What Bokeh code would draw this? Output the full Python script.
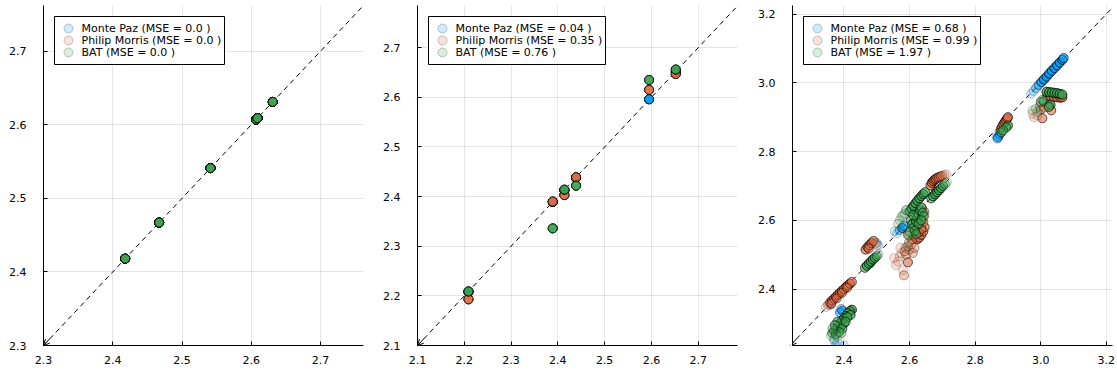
import numpy as np
from bokeh.plotting import figure
from bokeh.layouts import row
from bokeh.models import (ColumnDataSource, FixedTicker, PrintfTickFormatter,
                          Arrow, OpenHead)
from bokeh.core.properties import value
from bokeh.embed import file_html
from bokeh.resources import INLINE

# ---------------- data ----------------
series_names = ["Monte Paz", "Philip Morris", "BAT"]
series_colors = ["#009AFA", "#E36F47", "#3EA44E"]

# panel 1 (all three models agree)
p1_mse = [0.0, 0.0, 0.0]
p1_x = [2.418, 2.467, 2.541, 2.607, 2.609, 2.631]
p1_y = [2.418, 2.467, 2.541, 2.607, 2.609, 2.631]
p1_n = [12, 12, 12, 12, 12, 12]

# panel 2
p2_mse = [0.04, 0.35, 0.76]
p2_x = [2.209, 2.389, 2.414, 2.439, 2.595, 2.652]
p2_y_mp = [2.208, 2.389, 2.413, 2.438, 2.596, 2.651]
p2_y_pm = [2.193, 2.390, 2.403, 2.439, 2.615, 2.647]
p2_y_bat = [2.209, 2.336, 2.414, 2.422, 2.635, 2.656]
p2_n = [12, 12, 12, 12, 12, 12]

# panel 3 (n = number of coincident observations at each point)
p3_mse = [0.68, 0.99, 1.97]
p3_mp_x = [2.970, 2.978, 2.986, 2.994, 3.002, 3.010, 3.018, 3.026, 3.034, 3.042, 3.050, 3.058, 3.066, 3.070,
           2.870, 2.875, 2.865, 2.868,
           2.555, 2.562, 2.570, 2.578, 2.582,
           2.395, 2.388, 2.392, 2.375, 2.400, 2.370, 2.380,
           2.500, 2.505, 2.480, 2.680, 2.620, 2.360]
p3_mp_y = [2.968, 2.976, 2.985, 2.994, 3.002, 3.010, 3.018, 3.027, 3.035, 3.043, 3.051, 3.059, 3.067, 3.072,
           2.842, 2.850, 2.845, 2.838,
           2.568, 2.562, 2.572, 2.578, 2.584,
           2.337, 2.332, 2.342, 2.236, 2.236, 2.250, 2.245,
           2.535, 2.527, 2.475, 2.685, 2.630, 2.355]
p3_mp_n = [1, 1, 2, 3, 5, 6, 6, 6, 6, 6, 6, 6, 6, 4,
           4, 3, 1, 2,
           1, 1, 2, 5, 3,
           4, 3, 2, 1, 1, 1, 1,
           1, 1, 3, 3, 3, 2]

p3_pm_x = [2.345, 2.352, 2.358, 2.364, 2.370, 2.376, 2.382, 2.388, 2.394, 2.400, 2.406, 2.412, 2.418, 2.424,
           2.362, 2.378, 2.394, 2.410,
           2.466, 2.472, 2.478, 2.484, 2.490, 2.476, 2.496, 2.500,
           2.612, 2.618, 2.624, 2.630, 2.636, 2.642, 2.646, 2.620, 2.628, 2.636, 2.642, 2.615, 2.632,
           2.640, 2.645, 2.625, 2.638,
           2.553, 2.558, 2.565, 2.570, 2.575, 2.580, 2.583, 2.588, 2.590, 2.595, 2.598, 2.600, 2.605,
           2.608, 2.610, 2.615, 2.585, 2.595, 2.572,
           2.664, 2.668, 2.672, 2.676, 2.680, 2.685, 2.690, 2.695, 2.700, 2.706, 2.712,
           2.878, 2.882, 2.886, 2.890, 2.894, 2.898, 2.900,
           3.020, 3.030, 3.040, 3.050, 3.060, 3.066, 3.025, 3.032, 3.000, 3.005, 2.980, 2.990, 2.975,
           2.998, 3.010]
p3_pm_y = [2.348, 2.355, 2.361, 2.367, 2.372, 2.378, 2.384, 2.389, 2.395, 2.400, 2.406, 2.411, 2.416, 2.421,
           2.358, 2.373, 2.389, 2.404,
           2.515, 2.522, 2.528, 2.534, 2.540, 2.518, 2.533, 2.528,
           2.555, 2.548, 2.545, 2.550, 2.558, 2.568, 2.580, 2.570, 2.565, 2.575, 2.595, 2.585, 2.600,
           2.612, 2.625, 2.590, 2.635,
           2.490, 2.470, 2.480, 2.495, 2.505, 2.455, 2.440, 2.520, 2.500, 2.478, 2.535, 2.515, 2.530,
           2.545, 2.505, 2.520, 2.510, 2.560, 2.520,
           2.702, 2.709, 2.714, 2.718, 2.721, 2.724, 2.726, 2.728, 2.730, 2.732, 2.734,
           2.866, 2.872, 2.879, 2.885, 2.891, 2.896, 2.900,
           2.962, 2.960, 2.959, 2.958, 2.957, 2.958, 2.935, 2.920, 2.922, 2.897, 2.900, 2.905, 2.910,
           2.932, 2.928]
p3_pm_n = [1, 2, 4, 6, 6, 6, 6, 6, 6, 6, 6, 6, 6, 4,
           3, 3, 3, 3,
           5, 6, 6, 6, 4, 3, 1, 1,
           4, 5, 5, 5, 5, 5, 4, 4, 4, 4, 3, 3, 3,
           3, 3, 3, 2,
           1, 1, 1, 1, 1, 1, 2, 2, 2, 4, 2, 2, 2,
           2, 2, 2, 2, 2, 1,
           5, 6, 6, 6, 6, 5, 4, 3, 2, 1, 1,
           3, 5, 6, 6, 6, 6, 5,
           6, 6, 6, 6, 6, 6, 3, 4, 3, 4, 1, 1, 1,
           2, 2]

p3_bat_x = [2.424, 2.418, 2.412, 2.406, 2.400, 2.394, 2.388, 2.382, 2.376, 2.370, 2.364, 2.420, 2.410,
            2.400, 2.390, 2.380, 2.372, 2.395, 2.385, 2.375, 2.405, 2.365, 2.360, 2.370, 2.380, 2.392,
            2.464, 2.470, 2.476, 2.482, 2.488, 2.494, 2.500, 2.505,
            2.600, 2.606, 2.612, 2.618, 2.624, 2.630, 2.636, 2.642, 2.647,
            2.604, 2.608, 2.612, 2.616, 2.620, 2.624, 2.628, 2.632, 2.636, 2.640, 2.644, 2.600, 2.596,
            2.612, 2.620, 2.628, 2.636,
            2.575, 2.580, 2.585, 2.590, 2.570, 2.595, 2.565,
            2.666, 2.672, 2.678, 2.684, 2.690, 2.696, 2.702, 2.708, 2.714,
            2.900, 2.895, 2.880, 2.885,
            3.018, 3.026, 3.034, 3.042, 3.050, 3.058, 3.066, 3.000, 3.010, 3.030, 3.025, 2.975, 2.985,
            2.990, 3.005]
p3_bat_y = [2.340, 2.336, 2.330, 2.322, 2.315, 2.308, 2.300, 2.292, 2.285, 2.278, 2.272, 2.325, 2.318,
            2.300, 2.290, 2.305, 2.295, 2.285, 2.275, 2.268, 2.305, 2.285, 2.265, 2.255, 2.262, 2.272,
            2.462, 2.468, 2.474, 2.480, 2.486, 2.491, 2.496, 2.501,
            2.626, 2.634, 2.642, 2.650, 2.657, 2.664, 2.671, 2.677, 2.682,
            2.600, 2.588, 2.578, 2.570, 2.598, 2.608, 2.618, 2.628, 2.638, 2.622, 2.612, 2.566, 2.556,
            2.615, 2.560, 2.590, 2.600,
            2.610, 2.615, 2.620, 2.630, 2.600, 2.525, 2.590,
            2.664, 2.670, 2.676, 2.682, 2.688, 2.694, 2.700, 2.706, 2.711,
            2.876, 2.870, 2.856, 2.862,
            2.974, 2.973, 2.972, 2.971, 2.970, 2.968, 2.966, 2.944, 2.946, 2.936, 2.930, 2.920, 2.925,
            2.915, 2.950]
p3_bat_n = [6, 6, 6, 6, 6, 6, 6, 5, 5, 4, 3, 5, 5,
            5, 5, 4, 4, 4, 3, 3, 4, 2, 1, 1, 1, 2,
            4, 6, 6, 6, 6, 5, 3, 1,
            5, 6, 6, 6, 6, 6, 6, 6, 4,
            4, 5, 5, 5, 5, 5, 5, 5, 4, 4, 3, 3, 2,
            3, 3, 4, 4,
            1, 1, 1, 2, 1, 1, 1,
            4, 6, 6, 6, 6, 5, 4, 2, 1,
            5, 4, 4, 3,
            6, 6, 6, 6, 6, 6, 6, 3, 3, 5, 4, 1, 1,
            1, 2]

# axis settings per panel
p1_range = (2.3, 2.762, 2.3, 2.762)
p2_range = (2.1, 2.784, 2.1, 2.785)
p3_range = (2.243, 3.219, 2.236, 3.225)
p1_ticks = [2.3, 2.4, 2.5, 2.6, 2.7]
p2_ticks = [2.1, 2.2, 2.3, 2.4, 2.5, 2.6, 2.7]
p3_ticks = [2.4, 2.6, 2.8, 3.0, 3.2]

FONT = "DejaVu Sans"
FONT_PX = 11
HEIGHT = 373
BORDER_TOP = 5
BORDER_BOTTOM = 28

# legend geometry (pixels)
LEG_MARGIN = 11
LEG_PAD = 6
LEG_GW = 16
LEG_STANDOFF = 5
LEG_ROW = 12

# DejaVu Sans advance widths (em) for sizing the legend box
_ADV = {" ": .318, "(": .390, ")": .390, ".": .318, "=": .838, "M": .863, "S": .635,
        "E": .632, "P": .603, "B": .686, "A": .684, "T": .611, "o": .612, "n": .634,
        "t": .392, "e": .615, "a": .613, "z": .525, "h": .634, "i": .278, "l": .278,
        "p": .635, "r": .411, "s": .521}


def text_width(s):
    return sum(_ADV.get(c, .636) for c in s) * FONT_PX


def make_panel(width, border_left, border_right, rng, ticks, series, mses):
    x0, x1, y0, y1 = rng
    p = figure(width=width, height=HEIGHT, x_range=(x0, x1), y_range=(y0, y1),
               output_backend="svg", toolbar_location=None,
               min_border_left=border_left, min_border_right=border_right,
               min_border_top=BORDER_TOP, min_border_bottom=BORDER_BOTTOM)
    p.outline_line_color = None
    p.background_fill_color = "white"
    p.border_fill_color = "white"

    for ax in (p.xaxis[0], p.yaxis[0]):
        ax.ticker = FixedTicker(ticks=ticks)
        ax.formatter = PrintfTickFormatter(format="%.1f")
        ax.major_label_text_font = FONT
        ax.major_label_text_font_size = f"{FONT_PX}px"
        ax.major_label_text_color = "black"
        ax.axis_line_color = "black"
        ax.axis_line_width = 1
        ax.major_tick_in = 4
        ax.major_tick_out = 0
        ax.major_tick_line_color = "black"
        ax.minor_tick_line_color = None
    p.xaxis.major_label_standoff = 10
    p.yaxis.major_label_standoff = 17

    p.grid.grid_line_color = "black"
    p.grid.grid_line_alpha = 0.1
    p.grid.grid_line_width = 1
    p.xgrid.ticker = FixedTicker(ticks=ticks)
    p.ygrid.ticker = FixedTicker(ticks=ticks)

    # identity line
    lo = min(x0, y0)
    hi = max(x1, y1)
    p.line([lo, hi], [lo, hi], line_color="black", line_width=1, line_dash="5 4")
    d = (hi - lo) * 0.02
    p.add_layout(Arrow(end=OpenHead(size=6, line_width=1, line_color="black"),
                       x_start=lo + d, y_start=lo + d, x_end=lo, y_end=lo,
                       line_width=1, line_color="black"))

    # data
    for (xs, ys, ns), color in zip(series, series_colors):
        xr = np.repeat(np.asarray(xs, float), ns)
        yr = np.repeat(np.asarray(ys, float), ns)
        src = ColumnDataSource(dict(x=xr, y=yr))
        p.scatter("x", "y", source=src, size=9, marker="circle",
                  fill_color=color, fill_alpha=0.2,
                  line_color="black", line_alpha=0.2, line_width=1)

    # legend (laid out in frame pixels, converted to data units)
    fw = width - border_left - border_right
    fh = HEIGHT - BORDER_TOP - BORDER_BOTTOM

    def dx(px):
        return x0 + px / fw * (x1 - x0)

    def dy(py):
        return y1 - py / fh * (y1 - y0)

    labels = [f"{name} (MSE = {mse} )" for name, mse in zip(series_names, mses)]
    box_w = LEG_PAD + LEG_GW + LEG_STANDOFF + max(text_width(s) for s in labels) + 3
    box_h = 2 * LEG_PAD + LEG_ROW * len(labels)
    p.quad(left=[dx(LEG_MARGIN)], right=[dx(LEG_MARGIN + box_w)],
           top=[dy(LEG_MARGIN)], bottom=[dy(LEG_MARGIN + box_h)],
           fill_color="white", line_color="black", line_width=1)
    row_y = [dy(LEG_MARGIN + LEG_PAD + LEG_ROW * i + LEG_ROW / 2) for i in range(len(labels))]
    p.scatter(x=[dx(LEG_MARGIN + LEG_PAD + LEG_GW / 2)] * len(labels), y=row_y,
              size=9, marker="circle", fill_color=series_colors, fill_alpha=0.2,
              line_color="black", line_alpha=0.2, line_width=1)
    p.text(x=[dx(LEG_MARGIN + LEG_PAD + LEG_GW + LEG_STANDOFF)] * len(labels), y=row_y,
           text=labels, text_font=value(FONT), text_font_size=f"{FONT_PX}px",
           text_baseline="middle", text_align="left", text_color="black")
    return p


s1 = [(p1_x, p1_y, p1_n), (p1_x, p1_y, p1_n), (p1_x, p1_y, p1_n)]
s2 = [(p2_x, p2_y_mp, p2_n), (p2_x, p2_y_pm, p2_n), (p2_x, p2_y_bat, p2_n)]
s3 = [(p3_mp_x, p3_mp_y, p3_mp_n), (p3_pm_x, p3_pm_y, p3_pm_n),
      (p3_bat_x, p3_bat_y, p3_bat_n)]

f1 = make_panel(372, 43, 9, p1_range, p1_ticks, s1, p1_mse)
f2 = make_panel(372, 45, 7, p2_range, p2_ticks, s2, p2_mse)
f3 = make_panel(373, 48, 5, p3_range, p3_ticks, s3, p3_mse)

layout = row(f1, f2, f3)
open("out.html", "w").write(file_html(layout, INLINE))
